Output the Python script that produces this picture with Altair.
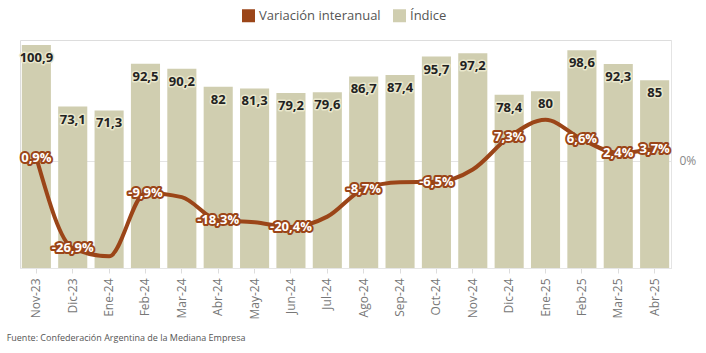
import altair as alt
import pandas as pd

meses = ["Nov-23", "Dic-23", "Ene-24", "Feb-24", "Mar-24", "Abr-24", "May-24", "Jun-24", "Jul-24",
         "Ago-24", "Sep-24", "Oct-24", "Nov-24", "Dic-24", "Ene-25", "Feb-25", "Mar-25", "Abr-25"]
indice = [100.9, 73.1, 71.3, 92.5, 90.2, 82, 81.3, 79.2, 79.6,
          86.7, 87.4, 95.7, 97.2, 78.4, 80, 98.6, 92.3, 85]
variacion = [0.9, -26.9, -29.4, -9.9, -11.2, -18.3, -18.9, -20.4, -17.2,
             -8.7, -6.6, -6.5, -2.7, 7.3, 12.6, 6.6, 2.4, 3.7]
etiquetado = [True, True, False, True, False, True, False, True, False,
              True, False, True, False, True, False, True, True, True]
series = ["Variación interanual", "Índice"]

df = pd.DataFrame({"mes": meses, "indice": indice, "variacion": variacion, "etiqueta": etiquetado})

BEIGE = "#d0ceb0"
BROWN = "#9b4518"
FONT = "Open Sans"

x = alt.X("mes:N", sort=meses, title=None,
          scale=alt.Scale(paddingInner=0.2, paddingOuter=0.05),
          axis=alt.Axis(labelAngle=-90, labelFontSize=12, labelColor="#777", labelFont=FONT,
                        tickColor="#ddd", domainColor="#e6e6e6", labelPadding=5, tickSize=5))

ybar = alt.Y("indice:Q", scale=alt.Scale(domain=[0, 103.2], nice=False, zero=True), axis=None)

base = alt.Chart(df)

bars = base.transform_calculate(serie="'" + series[1] + "'").mark_bar().encode(
    x=x, y=ybar,
    color=alt.Color("serie:N",
                    scale=alt.Scale(domain=series, range=[BROWN, BEIGE]),
                    legend=alt.Legend(orient="none", legendX=222, legendY=-31, direction="horizontal",
                                      title=None, symbolType="square", symbolSize=169,
                                      symbolStrokeWidth=0, labelFontSize=13, labelColor="#555",
                                      labelFont=FONT, columnPadding=12)),
)

bar_txt = base.transform_calculate(
    lab="replace(datum.indice + '', '.', ',')"
)
bar_halo = bar_txt.mark_text(dy=13, baseline="middle", fontSize=13, fontWeight="bold", font=FONT,
                             stroke="#e9e7cc", strokeWidth=3, strokeJoin="round", fill="#e9e7cc").encode(
    x=x, y=ybar, text="lab:N")
bar_lab = bar_txt.mark_text(dy=13, baseline="middle", fontSize=13, fontWeight="bold", font=FONT,
                            fill="#222").encode(x=x, y=ybar, text="lab:N")

bar_layer = alt.layer(bars, bar_halo, bar_lab)

yline = alt.Y("variacion:Q", scale=alt.Scale(domain=[-33.0, 37.15], nice=False, zero=False), title=None,
              axis=alt.Axis(orient="right", values=[0], labelExpr="'0%'", grid=True, gridColor="#e4e4e4",
                            domainColor="#e4e4e4", ticks=False, labelColor="#888", labelFontSize=12,
                            labelFont=FONT, labelPadding=8))

line = base.mark_line(interpolate="monotone", color=BROWN, strokeWidth=4).encode(x=x, y=yline)

line_txt = base.transform_filter("datum.etiqueta").transform_calculate(
    lab="replace(datum.variacion + '', '.', ',') + '%'"
)
line_halo = line_txt.mark_text(baseline="middle", fontSize=13, fontWeight="bold", font=FONT,
                               stroke=BROWN, strokeWidth=4, strokeJoin="round", fill=BROWN).encode(
    x=x, y=alt.Y("variacion:Q"), text="lab:N")
line_lab = line_txt.mark_text(baseline="middle", fontSize=13, fontWeight="bold", font=FONT,
                              fill="white").encode(x=x, y=alt.Y("variacion:Q"), text="lab:N")

line_layer = alt.layer(line, line_halo, line_lab)

chart = alt.layer(bar_layer, line_layer).resolve_scale(y="independent").properties(
    width=651, height=228,
    autosize=alt.AutoSizeParams(type="none"),
    padding={"left": 20, "top": 40, "right": 35, "bottom": 85},
    title=alt.TitleParams(text="Fuente: Confederación Argentina de la Mediana Empresa", orient="bottom",
                          anchor="start", fontSize=9, fontWeight="normal", color="#555", font=FONT,
                          dx=-13, offset=15),
).configure_view(stroke=None).configure(font=FONT)

chart.save("out.html", embed_options={"renderer": "svg", "actions": False})
